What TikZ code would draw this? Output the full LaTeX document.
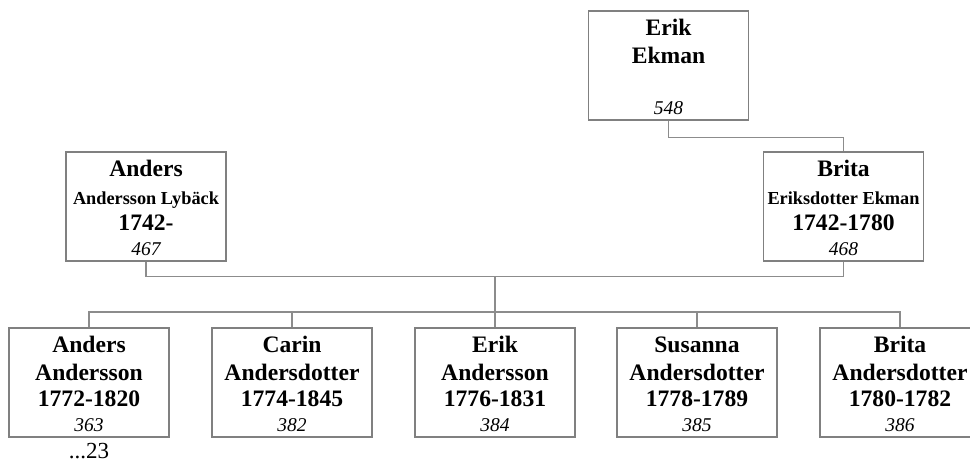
\documentclass[tikz,border=0pt]{standalone}
\usepackage{fontspec}
\setmainfont{Liberation Serif}

\colorlet{boxgray}{black!50}
\colorlet{linegray}{black!45}
\tikzset{
  pbox/.style={draw=boxgray,line width=1.1pt,fill=white,minimum width=160pt,minimum height=109pt,inner sep=0pt},
  big/.style={anchor=base,inner sep=0pt,font=\fontsize{23.6}{27}\selectfont\bfseries},
  sub/.style={anchor=base,inner sep=0pt,font=\fontsize{18.3}{21}\selectfont\bfseries},
  num/.style={anchor=base,inner sep=0pt,font=\fontsize{19.5}{22}\selectfont\itshape},
  link/.style={draw=linegray,line width=1.1pt}
}
% id, centre x, top y, first name, second line, years, number
\newcommand{\person}[7]{%
  \node[pbox] (#1) at (#2,#3+54.5) {};
  \node[big] (#1-a) at (#2,#3+24) {#4};
  \node[big] (#1-b) at (#2,#3+52) {#5};
  \node[big] (#1-c) at (#2,#3+78) {#6};
  \node[num] (#1-d) at (#2,#3+103) {#7};
}
\newcommand{\smallname}[1]{{\fontsize{18.3}{21}\selectfont #1}}

\begin{document}
\begin{tikzpicture}[x=1pt,y=-1pt]
  \useasboundingbox (0,0) rectangle (970,463);

  \person{erik}{668.5}{11}{Erik}{Ekman}{}{548}
  \person{anders}{146}{152}{Anders}{\smallname{Andersson Lybäck}}{1742-}{467}
  \person{brita}{843.5}{152}{Brita}{\smallname{Eriksdotter Ekman}}{1742-1780}{468}

  \person{c1}{89}{328}{Anders}{Andersson}{1772-1820}{363}
  \person{c2}{292}{328}{Carin}{Andersdotter}{1774-1845}{382}
  \person{c3}{495}{328}{Erik}{Andersson}{1776-1831}{384}
  \person{c4}{697}{328}{Susanna}{Andersdotter}{1778-1789}{385}
  \person{c5}{900}{328}{Brita}{Andersdotter}{1780-1782}{386}

  \node[anchor=base,inner sep=0pt,font=\fontsize{23}{26}\selectfont] (more) at (89,458) {...23};

  % parents of Brita
  \draw[link] (erik.south) -- ++(0,17) -| (brita.north);
  % marriage and children
  \draw[link] (anders.south) -- ++(0,15) -| (brita.south);
  \coordinate (fam) at (495,277);
  \coordinate (bus) at (495,312);
  \draw[link] (fam) -- (bus);
  \foreach \c in {c1,c2,c3,c4,c5}
    \draw[link] (bus) -| (\c.north);
\end{tikzpicture}
\end{document}
